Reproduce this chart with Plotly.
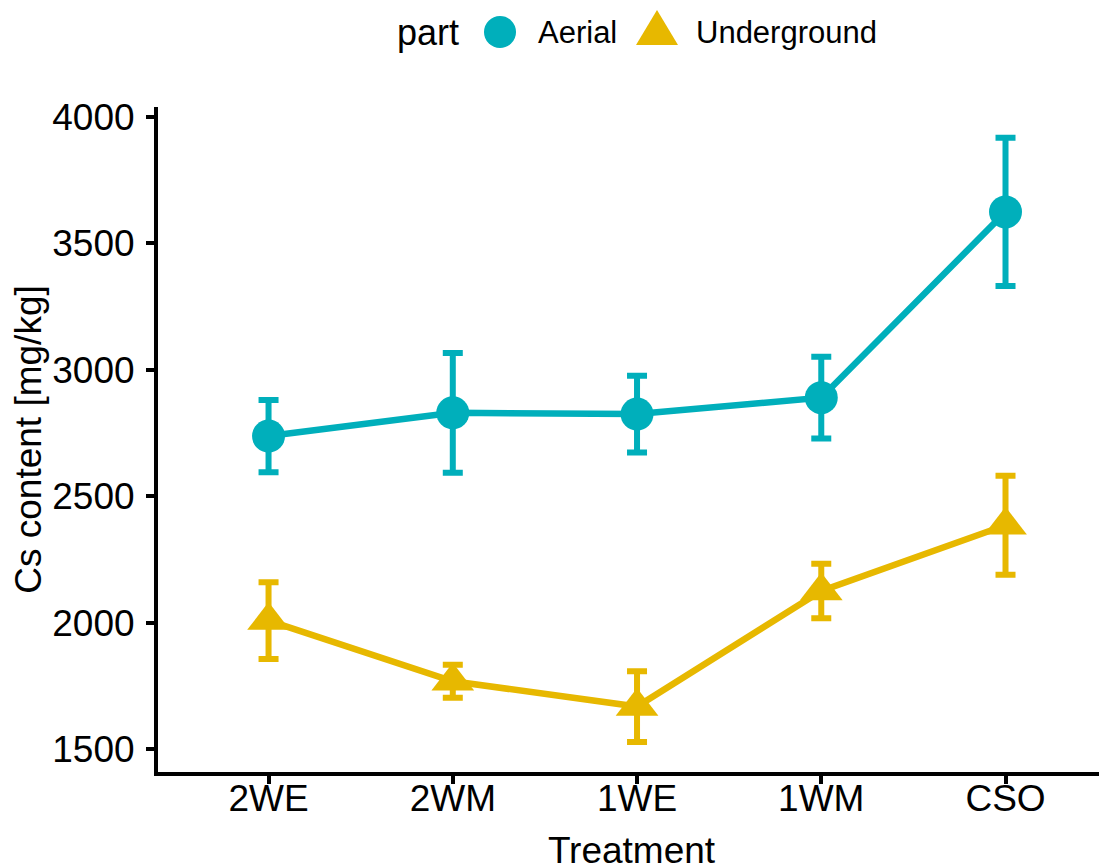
import plotly.graph_objects as go

treatments = ["2WE", "2WM", "1WE", "1WM", "CSO"]
aerial_mean = [2738, 2830, 2825, 2890, 3625]
aerial_err = [143, 237, 152, 162, 293]
under_mean = [2008, 1768, 1668, 2125, 2385]
under_err = [152, 65, 140, 108, 196]

c_aer = "#00AFBB"
c_und = "#E7B800"
FONT = "Liberation Sans, Arial, Helvetica, sans-serif"

fig = go.Figure()
fig.add_trace(go.Scatter(
    x=treatments, y=aerial_mean, name="Aerial", mode="lines+markers",
    line=dict(color=c_aer, width=6.5),
    marker=dict(symbol="circle", size=33, color=c_aer),
    error_y=dict(type="data", array=aerial_err, visible=True, color=c_aer, thickness=6, width=10),
    showlegend=False,
))
fig.add_trace(go.Scatter(
    x=treatments, y=under_mean, name="Underground", mode="lines+markers",
    line=dict(color=c_und, width=6.5),
    marker=dict(symbol="triangle-up", size=37, color=c_und),
    error_y=dict(type="data", array=under_err, visible=True, color=c_und, thickness=6, width=10),
    showlegend=False,
))

# Page offset (default body margin) compensation
OFF = 8
L, T, W, H = 158, 107, 947, 665
FW, FH = 1107 - OFF, 863

def px(x):
    return (x - L) / W
def py(y):
    return (T + H - y) / H

# Legend drawn manually to match large ggplot key glyphs
shapes = [
    dict(type="circle", xref="paper", yref="paper", xsizemode="pixel", ysizemode="pixel",
         xanchor=px(500), yanchor=py(32), x0=-16, x1=16, y0=-16, y1=16,
         fillcolor=c_aer, line=dict(width=0)),
    dict(type="path", xref="paper", yref="paper", xsizemode="pixel", ysizemode="pixel",
         xanchor=px(657), yanchor=py(28), path="M -21 -17 L 21 -17 L 0 18 Z",
         fillcolor=c_und, line=dict(width=0)),
]
annotations = [
    dict(text="part", x=px(395), y=py(32), xref="paper", yref="paper", xanchor="left",
         yanchor="middle", showarrow=False, font=dict(size=36, color="black", family=FONT)),
    dict(text="Aerial", x=px(536), y=py(32), xref="paper", yref="paper", xanchor="left",
         yanchor="middle", showarrow=False, font=dict(size=31, color="black", family=FONT)),
    dict(text="Underground", x=px(694), y=py(32), xref="paper", yref="paper", xanchor="left",
         yanchor="middle", showarrow=False, font=dict(size=31, color="black", family=FONT)),
]

fig.update_layout(
    width=FW, height=FH,
    margin=dict(l=L - OFF, r=FW - (L - OFF) - W, t=T - OFF, b=FH - (T - OFF) - H, autoexpand=False),
    paper_bgcolor="white", plot_bgcolor="white",
    font=dict(family=FONT, color="black", size=36),
    shapes=shapes, annotations=annotations,
    showlegend=False,
)
fig.update_xaxes(
    type="category", range=[-0.6, 4.54], automargin=False,
    showline=True, linecolor="black", linewidth=4,
    ticks="outside", ticklen=8, tickwidth=4, tickcolor="black",
    ticklabelstandoff=-17,
    tickfont=dict(size=37, family=FONT, color="black"),
    showgrid=False, zeroline=False,
    title=dict(text="Treatment", font=dict(size=37, family=FONT, color="black"), standoff=25),
)
fig.update_yaxes(
    range=[1409, 4040], tickvals=[1500, 2000, 2500, 3000, 3500, 4000], automargin=False,
    showline=True, linecolor="black", linewidth=4,
    ticks="outside", ticklen=8, tickwidth=4, tickcolor="black",
    ticklabelstandoff=4,
    tickfont=dict(size=37, family=FONT, color="black"),
    showgrid=False, zeroline=False,
    title=dict(text="Cs content [mg/kg]", font=dict(size=37, family=FONT, color="black"), standoff=2),
)

fig.write_html("out.html")
